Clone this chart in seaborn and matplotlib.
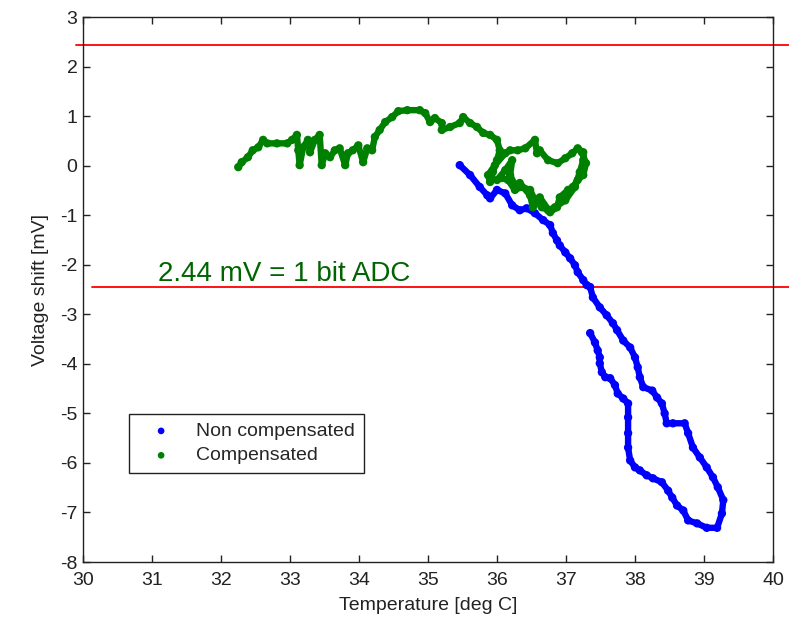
import matplotlib
matplotlib.use("Agg")
import matplotlib.pyplot as plt
import pandas as pd
import seaborn as sns

# Voltage shift vs. temperature, uncompensated channel
temp_noncomp = [35.46, 35.61, 35.75, 35.86, 35.90, 36.00, 36.12, 36.22, 36.33, 36.43,
                36.55, 36.67, 36.77, 36.81, 36.87, 36.91, 36.99, 37.06, 37.13, 37.17,
                37.25, 37.30, 37.35, 37.39, 37.49, 37.59, 37.68, 37.74, 37.83, 37.93,
                38.00, 38.04, 38.07, 38.12, 38.25, 38.32, 38.39, 38.43, 38.46, 38.55,
                38.72, 38.77, 38.84, 38.94, 39.04, 39.13, 39.20, 39.28, 39.26, 39.19,
                39.04, 38.90, 38.77, 38.70, 38.61, 38.54, 38.48, 38.39, 38.26, 38.17,
                38.07, 38.00, 37.93, 37.90, 37.90, 37.90, 37.90, 37.83, 37.75, 37.71,
                37.64, 37.57, 37.52, 37.49, 37.49, 37.46, 37.42, 37.35]
shift_noncomp = [0.01, -0.19, -0.43, -0.60, -0.66, -0.49, -0.56, -0.80, -0.90, -0.86,
                 -0.96, -1.10, -1.20, -1.36, -1.51, -1.61, -1.75, -1.87, -2.01, -2.15,
                 -2.31, -2.41, -2.45, -2.66, -2.86, -3.02, -3.18, -3.32, -3.53, -3.67,
                 -3.87, -4.07, -4.27, -4.47, -4.54, -4.68, -4.80, -5.00, -5.20, -5.20,
                 -5.20, -5.40, -5.69, -5.89, -6.09, -6.29, -6.49, -6.75, -7.02, -7.31,
                 -7.31, -7.22, -7.16, -6.96, -6.86, -6.70, -6.56, -6.39, -6.31, -6.25,
                 -6.15, -6.09, -5.95, -5.69, -5.40, -5.08, -4.80, -4.70, -4.60, -4.43,
                 -4.29, -4.27, -4.17, -3.99, -3.87, -3.73, -3.57, -3.38]

# Voltage shift vs. temperature, compensated channel
temp_comp = [32.25, 32.30, 32.39, 32.46, 32.54, 32.61, 32.67, 32.81, 32.96, 33.03,
             33.10, 33.12, 33.14, 33.19, 33.26, 33.29, 33.36, 33.43, 33.46, 33.51,
             33.58, 33.65, 33.72, 33.80, 33.84, 33.91, 33.99, 34.06, 34.12, 34.19,
             34.23, 34.30, 34.38, 34.48, 34.57, 34.70, 34.88, 34.96, 35.03, 35.10,
             35.20, 35.20, 35.32, 35.46, 35.51, 35.61, 35.71, 35.80, 35.90, 36.00,
             36.04, 36.00, 35.94, 35.90, 35.87, 35.97, 36.12, 36.19, 36.30, 36.41,
             36.55, 36.58, 36.62, 36.74, 36.88, 36.99, 37.09, 37.17, 37.25, 37.25,
             37.20, 37.13, 36.99, 36.84, 36.74, 36.65, 36.55, 36.48, 36.36, 36.26,
             36.16, 36.07, 36.00, 36.12, 36.22, 36.19, 36.26, 36.33, 36.48, 36.52,
             36.62, 36.77, 36.87, 36.91, 37.03, 37.10, 37.17, 37.25, 37.29, 37.23]
shift_comp = [-0.03, 0.07, 0.17, 0.31, 0.37, 0.52, 0.45, 0.45, 0.45, 0.52,
              0.62, 0.31, 0.01, 0.37, 0.52, 0.27, 0.52, 0.62, 0.01, 0.25,
              0.17, 0.31, 0.35, 0.01, 0.25, 0.31, 0.41, 0.07, 0.35, 0.31,
              0.58, 0.72, 0.88, 0.98, 1.10, 1.12, 1.12, 1.06, 0.88, 0.96,
              0.86, 0.72, 0.78, 0.86, 0.98, 0.86, 0.78, 0.66, 0.62, 0.52,
              0.31, 0.11, -0.13, -0.33, -0.19, 0.01, 0.25, 0.31, 0.31, 0.35,
              0.52, 0.25, 0.31, 0.11, 0.05, 0.15, 0.25, 0.35, 0.27, 0.11,
              -0.13, -0.43, -0.70, -0.84, -0.90, -0.84, -0.70, -0.49, -0.43, -0.49,
              -0.29, -0.25, -0.29, -0.09, 0.11, -0.19, -0.39, -0.35, -0.60, -0.84,
              -0.64, -0.94, -0.84, -0.64, -0.49, -0.43, -0.29, -0.19, 0.05, 0.27]

series_names = ["Non compensated", "Compensated"]
series_colors = ["#0000ff", "#008000"]
adc_lsb = 2.44                      # one ADC bit, mV
adc_label = "2.44 mV = 1 bit ADC"
x_ticks = list(range(30, 41))
y_ticks = list(range(-8, 4))

sns.set_theme(style="ticks")
plt.rcParams["font.family"] = ["Liberation Sans", "DejaVu Sans"]
plt.rcParams["axes.unicode_minus"] = False

fig = plt.figure(figsize=(7.89, 6.23), dpi=100)
ax = fig.add_axes([0.1052, 0.0979, 0.8745, 0.8748])

frames = [
    pd.DataFrame({"temp": temp_noncomp, "shift": shift_noncomp}),
    pd.DataFrame({"temp": temp_comp, "shift": shift_comp}),
]
for df, name, col in zip(frames, series_names, series_colors):
    sns.lineplot(data=df, x="temp", y="shift", sort=False, estimator=None,
                 color=col, lw=4.6, ax=ax, legend=False)
    sns.scatterplot(data=df, x="temp", y="shift", color=col, s=36,
                    edgecolor="none", ax=ax, label=name, zorder=3)

# +/- one-bit ADC thresholds
ax.axhline(adc_lsb, xmin=-0.010, xmax=1.03, color="red", lw=1.3, clip_on=False)
ax.axhline(-adc_lsb, xmin=0.013, xmax=1.03, color="red", lw=1.3, clip_on=False)
ax.text(31.09, -adc_lsb + 0.12, adc_label, color="#006400", fontsize=20,
        va="baseline", ha="left")

ax.set_xlim(30, 40)
ax.set_ylim(-8, 3)
ax.set_xticks(x_ticks)
ax.set_yticks(y_ticks)
ax.set_xlabel("Temperature [deg C]", fontsize=14, labelpad=6, color="#222222")
ax.set_ylabel("Voltage shift [mV]", fontsize=14, labelpad=8, color="#222222")
ax.tick_params(direction="in", length=5, width=1, top=True, right=True,
               labelsize=14, colors="#222222")
ax.tick_params(axis="x", pad=7)
ax.tick_params(axis="y", pad=4)
for sp in ax.spines.values():
    sp.set_visible(True)
    sp.set_color("#222222")
    sp.set_linewidth(1.0)

leg = ax.legend(loc="lower left", bbox_to_anchor=(0.0667, 0.163),
                borderaxespad=0, fontsize=14, frameon=True, fancybox=False,
                framealpha=1, edgecolor="#222222", handletextpad=0.6,
                borderpad=0.45, labelspacing=0.35, handlelength=2.4,
                markerscale=0.8)
leg.get_frame().set_linewidth(1.0)

fig.savefig("out.png", dpi=100)
